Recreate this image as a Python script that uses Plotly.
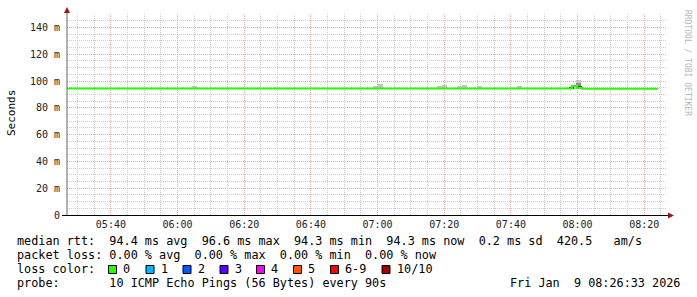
import plotly.graph_objects as go

DAY = "2026-01-09 "

# ---- data ----
median_times = ["05:26:50", "07:58:20", "07:59:50", "08:01:20", "08:24:10"]
median_ms = [94.4, 96.3, 95.0, 94.3, 94.3]

smoke_times = ["06:05:00", "06:59:15", "07:00:45", "07:18:40", "07:20:10", "07:24:40",
               "07:26:10", "07:30:40", "07:42:30", "07:58:50", "08:00:20"]
smoke_low = [94.0, 94.0, 94.0, 94.0, 94.0, 94.0, 94.0, 94.0, 94.0, 94.0, 94.0]
smoke_high = [96.0, 96.2, 97.5, 96.0, 96.8, 96.0, 97.0, 96.0, 95.9, 97.3, 101.0]

dense_times = ["08:00:20"]
dense_low = [94.0]
dense_high = [98.6]

dark_times = ["07:58:10", "08:00:40"]
dark_low = [94.6, 95.2]
dark_high = [95.6, 96.6]

x_tick_times = ["05:40", "06:00", "06:20", "06:40", "07:00", "07:20", "07:40", "08:00", "08:20"]
x_tick_labels = ["05:40", "06:00", "06:20", "06:40", "07:00", "07:20", "07:40", "08:00", "08:20"]
x_minor_times = ["05:30", "05:35", "05:45", "05:50", "05:55", "06:05", "06:10", "06:15",
                 "06:25", "06:30", "06:35", "06:45", "06:50", "06:55", "07:05", "07:10", "07:15",
                 "07:25", "07:30", "07:35", "07:45", "07:50", "07:55", "08:05", "08:10", "08:15",
                 "08:25"]
y_tick_vals = [0, 20, 40, 60, 80, 100, 120, 140]
y_tick_labels = ["0", "20 m", "40 m", "60 m", "80 m", "100 m", "120 m", "140 m"]
y_minor_vals = [5, 10, 15, 25, 30, 35, 45, 50, 55, 65, 70, 75, 85, 90, 95,
                105, 110, 115, 125, 130, 135, 145, 150]

loss_labels = ["0", "1", "2", "3", "4", "5", "6-9", "10/10"]
loss_colors = ["#26ff00", "#00b8ff", "#0059ff", "#5e00ff", "#ff00ff", "#ff5500", "#ff0000", "#a00000"]

rtt_line = "median rtt:  94.4 ms avg  96.6 ms max  94.3 ms min  94.3 ms now  0.2 ms sd  420.5   am/s"
loss_line = "packet loss: 0.00 % avg  0.00 % max  0.00 % min  0.00 % now"
probe_line = "probe:       10 ICMP Echo Pings (56 Bytes) every 90s"
date_line = "Fri Jan  9 08:26:33 2026"

# ---- geometry (pixels) ----
W, H = 697, 297
X0, X1, Y0, Y1 = 67, 667, 14, 215


def px(x):
    return (x - X0) / (X1 - X0)


def py(y):
    return (Y1 - y) / (Y1 - Y0)


def nb(s):
    return s.replace(" ", "\u00a0")


MONO = "DejaVu Sans Mono"

fig = go.Figure()


def add_bars(times, lo, hi, color):
    fig.add_trace(go.Bar(
        x=[DAY + t for t in times],
        y=[h - l for h, l in zip(hi, lo)],
        base=lo,
        width=90000,
        marker=dict(color=color, line=dict(width=0)),
        showlegend=False,
        hoverinfo="skip",
    ))


add_bars(smoke_times, smoke_low, smoke_high, "#c4c4c4")
add_bars(dense_times, dense_low, dense_high, "#909090")
add_bars(dark_times, dark_low, dark_high, "#2a2a2a")

fig.add_trace(go.Scatter(
    x=[DAY + t for t in median_times],
    y=median_ms,
    mode="lines",
    line=dict(color=loss_colors[0], width=2, shape="hv"),
    showlegend=False,
    hoverinfo="skip",
))

grid_major = "#eea6a6"
grid_minor = "#cccccc"

fig.update_layout(
    width=W, height=H,
    margin=dict(l=X0, r=W - X1, t=Y0, b=H - Y1, pad=0),
    paper_bgcolor="white",
    plot_bgcolor="white",
    barmode="overlay",
    bargap=0,
    showlegend=False,
    font=dict(family=MONO, size=10, color="#222"),
    xaxis=dict(
        type="date",
        range=[DAY + "05:26:50", DAY + "08:26:50"],
        tickmode="array",
        tickvals=[DAY + t for t in x_tick_times],
        ticktext=x_tick_labels,
        ticks="",
        ticklabelstandoff=2,
        tickfont=dict(family=MONO, size=10, color="#222"),
        showgrid=True,
        gridcolor=grid_major,
        griddash="1px,1px",
        gridwidth=1,
        minor=dict(tickmode="array", tickvals=[DAY + t for t in x_minor_times],
                   showgrid=True, gridcolor=grid_minor, griddash="1px,1px", gridwidth=1),
        zeroline=False,
        showline=False,
        fixedrange=True,
    ),
    yaxis=dict(
        range=[0, 150],
        tickmode="array",
        tickvals=y_tick_vals,
        ticktext=y_tick_labels,
        ticks="",
        ticklabelstandoff=6,
        tickfont=dict(family=MONO, size=10, color="#222"),
        showgrid=True,
        gridcolor=grid_major,
        griddash="1px,1px",
        gridwidth=1,
        minor=dict(tickmode="array", tickvals=y_minor_vals,
                   showgrid=True, gridcolor=grid_minor, griddash="1px,1px", gridwidth=1),
        zeroline=False,
        showline=False,
        fixedrange=True,
    ),
)

shapes = []
# axis lines
shapes.append(dict(type="line", xref="paper", yref="paper",
                   x0=px(67), x1=px(67), y0=py(215), y1=py(11),
                   line=dict(color="#666", width=1)))
shapes.append(dict(type="line", xref="paper", yref="paper",
                   x0=px(62), x1=px(669), y0=py(215.5), y1=py(215.5),
                   line=dict(color="#000", width=1.2)))
# arrows
arrow_c = "#a01515"
shapes.append(dict(type="path", xref="paper", yref="paper",
                   path=f"M {px(67)},{py(7)} L {px(64)},{py(13)} L {px(70)},{py(13)} Z",
                   fillcolor=arrow_c, line=dict(color=arrow_c, width=0)))
shapes.append(dict(type="path", xref="paper", yref="paper",
                   path=f"M {px(674)},{py(215.5)} L {px(668)},{py(212.5)} L {px(668)},{py(218.5)} Z",
                   fillcolor=arrow_c, line=dict(color=arrow_c, width=0)))

annotations = []


def text(s, x, y, anchor="left", size=11.8, color="#000", family=MONO, angle=0):
    annotations.append(dict(text=nb(s), x=px(x), y=py(y), xref="paper", yref="paper",
                            xanchor=anchor, yanchor="middle", showarrow=False,
                            borderpad=0, textangle=angle,
                            font=dict(family=family, size=size, color=color)))


text(rtt_line, 16, 241)
text(loss_line, 16, 255)
text("loss color:", 16, 269)
text(probe_line, 16, 283)
text(date_line, 681, 283, anchor="right")

box_x = [108, 145.5, 182.5, 219.5, 256, 293, 330, 381.5]
for bx, lab, col in zip(box_x, loss_labels, loss_colors):
    shapes.append(dict(type="rect", xref="paper", yref="paper",
                       x0=px(bx + 0.5), x1=px(bx + 8.5), y0=py(265.5), y1=py(273.5),
                       fillcolor=col, line=dict(color="#000", width=1)))
    text(lab, bx + 14, 269)

# y-axis title
annotations.append(dict(text="Seconds", x=px(11), y=py(113), xref="paper", yref="paper",
                        xanchor="center", yanchor="middle", showarrow=False, textangle=-90,
                        font=dict(family=MONO, size=11, color="#000")))
# watermark
annotations.append(dict(text=nb("RRDTOOL / TOBI OETIKER"), x=px(688), y=py(63), xref="paper", yref="paper",
                        xanchor="center", yanchor="middle", showarrow=False, textangle=90,
                        font=dict(family=MONO, size=8, color="#b8b8b8")))

fig.update_layout(shapes=shapes, annotations=annotations)

fig.write_html("out.html", config={"displayModeBar": False})
